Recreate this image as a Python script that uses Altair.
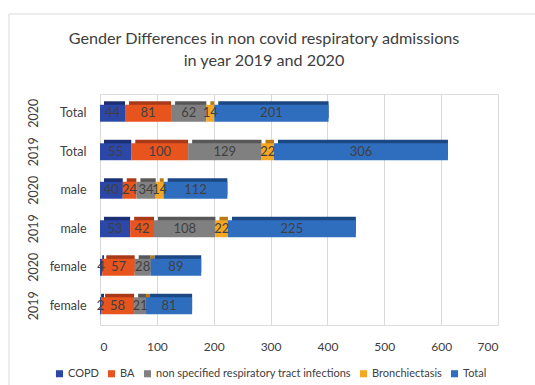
import altair as alt
import pandas as pd

rows = ["2020|Total", "2019|Total", "2020|male", "2019|male", "2020|female", "2019|female"]
years = ["2020", "2019", "2020", "2019", "2020", "2019"]
groups = ["Total", "Total", "male", "male", "female", "female"]
series = ["COPD", "BA", "non specified respiratory tract infections", "Bronchiectasis", "Total"]
copd = [44, 55, 40, 53, 4, 2]
ba = [81, 100, 24, 42, 57, 58]
nonspec = [62, 129, 34, 108, 28, 21]
bronch = [14, 22, 14, 22, 0, 0]
total = [201, 306, 112, 225, 89, 81]

colors = ["#2B48A8", "#E8541E", "#808080", "#F5A623", "#2F6EBF"]
dark = ["#1B2F72", "#A93A17", "#585858", "#B97A14", "#1B4782"]

recs = []
for i, r in enumerate(rows):
    for j, (s, vals) in enumerate(zip(series, [copd, ba, nonspec, bronch, total])):
        recs.append({"row": r, "year": years[i], "group": groups[i],
                     "series": s, "order": j, "value": vals[i]})
df = pd.DataFrame(recs)

FONT = "Lato"
TXT = "#404040"

base = alt.Chart(df).transform_stack(
    stack="value", groupby=["row"], as_=["x0", "x1"],
    sort=[alt.SortField("order", order="ascending")]
).transform_calculate(mid="(datum.x0 + datum.x1) / 2")

yenc = alt.Y("row:N", sort=rows,
             scale=alt.Scale(paddingInner=0.56, paddingOuter=0.28),
             axis=alt.Axis(title=None, labelExpr="split(datum.value, '|')[1]",
                           domain=False, ticks=False, labelPadding=14,
                           labelFontSize=12.5, labelColor=TXT, labelFont=FONT))
xenc = alt.X("x0:Q", scale=alt.Scale(domain=[0, 700]),
             axis=alt.Axis(title=None, values=list(range(0, 701, 100)),
                           domain=False, ticks=False, labelPadding=16,
                           labelFontSize=12, labelColor=TXT, labelFont=FONT,
                           gridColor="#d9d9d9", grid=True))

shadow = base.mark_bar(xOffset=4, yOffset=-3.5).encode(
    x=xenc, x2="x1:Q", y=yenc,
    color=alt.Color("series:N", scale=alt.Scale(domain=series, range=dark), legend=None),
)

front = base.mark_bar().encode(
    x=xenc, x2="x1:Q", y=yenc,
    color=alt.Color("series:N", scale=alt.Scale(domain=series, range=colors),
                    legend=alt.Legend(title=None, orient="none", direction="horizontal",
                                      legendX=-46, legendY=274, symbolType="square",
                                      symbolSize=50, labelFontSize=11, labelColor=TXT,
                                      labelFont=FONT, columnPadding=7, labelOffset=3,
                                      labelLimit=0, symbolStrokeWidth=0)),
)

labels = base.transform_filter("datum.value > 0").mark_text(
    fontSize=13, color=TXT, font=FONT
).encode(x=alt.X("mid:Q"), y=alt.Y("row:N", sort=rows), text="value:Q")

yearlab = base.transform_filter("datum.order == 0").mark_text(
    angle=270, fontSize=12.5, color=TXT, font=FONT
).encode(x=alt.value(-66), y=alt.Y("row:N", sort=rows), text="year:N")

frame = alt.Chart(pd.DataFrame({"a": [0]})).mark_rect(
    fill=None, stroke="#d9d9d9", strokeWidth=1
).encode(x=alt.value(-91), x2=alt.value(460), y=alt.value(-80), y2=alt.value(320))

chart = alt.layer(frame, shadow, front, labels, yearlab).resolve_scale(color="independent").properties(
    width=398, height=231,
    autosize=alt.AutoSizeParams(type="none"),
    padding={"left": 100, "top": 94, "right": 37, "bottom": 60},
    title=alt.Title(["Gender Differences in non covid respiratory admissions",
                     "in year 2019 and 2020"],
                    fontSize=16.2, font=FONT, fontWeight="normal", color=TXT,
                    anchor="middle", frame="group", dx=-35, offset=-56, lineHeight=22),
).configure_view(stroke=None).configure(background="white")

chart.save("out.html", embed_options={"renderer": "svg", "actions": False})
